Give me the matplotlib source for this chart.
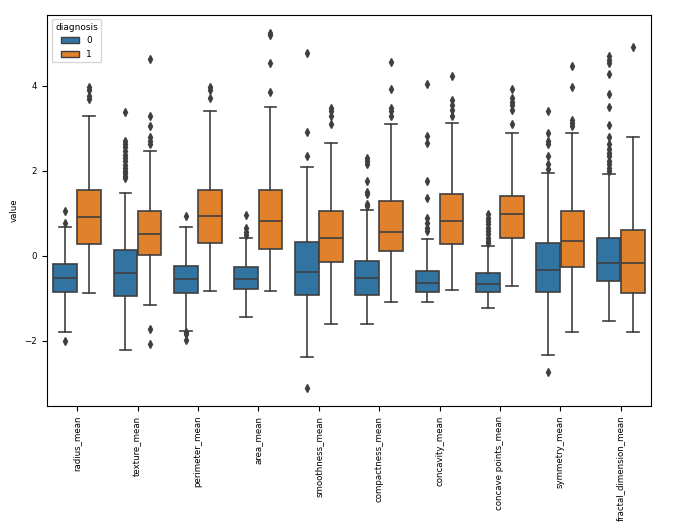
import matplotlib
matplotlib.use("Agg")
import matplotlib.pyplot as plt
from matplotlib.patches import Patch

features = ["radius_mean", "texture_mean", "perimeter_mean", "area_mean",
            "smoothness_mean", "compactness_mean", "concavity_mean",
            "concave points_mean", "symmetry_mean", "fractal_dimension_mean"]

# box statistics, diagnosis 0 (benign)
b_q1 = [-0.84, -0.94, -0.87, -0.78, -0.92, -0.91, -0.84, -0.86, -0.84, -0.59]
b_med = [-0.51, -0.41, -0.54, -0.54, -0.38, -0.53, -0.63, -0.65, -0.33, -0.16]
b_q3 = [-0.20, 0.14, -0.23, -0.27, 0.33, -0.12, -0.36, -0.41, 0.30, 0.42]
b_lo = [-1.80, -2.21, -1.76, -1.43, -2.37, -1.59, -1.09, -1.23, -2.34, -1.54]
b_hi = [0.69, 1.47, 0.69, 0.43, 2.10, 1.07, 0.39, 0.24, 1.95, 1.93]
b_fliers = [
    [1.05, 0.78, -2.01],
    [3.38, 2.70, 2.62, 2.55, 2.46, 2.38, 2.30, 2.22, 2.14, 2.07, 2.00, 1.95, 1.88, 1.82],
    [0.95, -1.78, -1.84, -1.97],
    [0.97, 0.66, 0.56, 0.48],
    [4.77, 2.91, 2.34, -3.10],
    [2.30, 2.23, 2.17, 1.77, 1.51, 1.46, 1.21, 1.17],
    [4.05, 2.83, 2.66, 1.76, 1.37, 0.88, 0.78, 0.66, 0.59],
    [0.98, 0.90, 0.82, 0.74, 0.66, 0.59, 0.51, 0.43, 0.35, 0.30],
    [3.40, 2.88, 2.70, 2.62, 2.36, 2.15, 2.05, -2.72],
    [4.69, 4.61, 4.53, 4.27, 3.81, 3.50, 3.07, 2.80, 2.62, 2.52, 2.42, 2.34, 2.23, 2.15, 2.07, 1.99],
]

# diagnosis 1 (malignant)
m_q1 = [0.27, 0.02, 0.30, 0.16, -0.14, 0.12, 0.28, 0.43, -0.25, -0.87]
m_med = [0.92, 0.52, 0.94, 0.81, 0.43, 0.56, 0.82, 0.98, 0.35, -0.16]
m_q3 = [1.56, 1.06, 1.56, 1.56, 1.05, 1.29, 1.45, 1.42, 1.06, 0.62]
m_lo = [-0.88, -1.15, -0.82, -0.82, -1.59, -1.09, -0.80, -0.70, -1.80, -1.80]
m_hi = [3.30, 2.46, 3.41, 3.49, 2.65, 3.09, 3.13, 2.88, 2.88, 2.80]
m_fliers = [
    [3.97, 3.91, 3.77, 3.69],
    [4.63, 3.30, 3.05, 2.79, 2.71, 2.62, -1.72, -2.07],
    [3.97, 3.89, 3.71],
    [5.25, 5.20, 4.53, 3.85],
    [3.48, 3.40, 3.28, 3.09],
    [4.55, 3.92, 3.48, 3.40, 3.28],
    [4.24, 3.66, 3.55, 3.44, 3.30],
    [3.92, 3.71, 3.63, 3.55, 3.44, 3.10],
    [4.47, 3.98, 3.20, 3.13, 3.05],
    [4.92],
]

BLUE = "#3274a1"
ORANGE = "#e1812c"
EDGE = "#3f3f3f"
FS = 6.2


def make_stats(q1, med, q3, lo, hi, fliers):
    stats = []
    for i in range(len(q1)):
        stats.append({"q1": q1[i], "med": med[i], "q3": q3[i],
                      "whislo": lo[i], "whishi": hi[i], "fliers": fliers[i]})
    return stats


fig = plt.figure(figsize=(6.91, 5.26), dpi=100)
ax = fig.add_axes([0.068, 0.228, 0.874, 0.744])

pos = list(range(len(features)))
groups = [(make_stats(b_q1, b_med, b_q3, b_lo, b_hi, b_fliers), -0.2, BLUE),
          (make_stats(m_q1, m_med, m_q3, m_lo, m_hi, m_fliers), 0.2, ORANGE)]

for stats, off, col in groups:
    ax.bxp(stats, positions=[p + off for p in pos], widths=0.392,
           patch_artist=True, showfliers=True,
           boxprops=dict(facecolor=col, edgecolor=EDGE, linewidth=1.2),
           medianprops=dict(color=EDGE, linewidth=1.2),
           whiskerprops=dict(color=EDGE, linewidth=1.2),
           capprops=dict(color=EDGE, linewidth=1.2),
           flierprops=dict(marker="d", markerfacecolor=EDGE, markeredgecolor=EDGE,
                           markersize=3.8, linestyle="none"))

ax.set_xlim(-0.5, len(features) - 0.5)
ax.set_ylim(-3.53, 5.67)
ax.set_xticks(pos)
ax.set_xticklabels(features, rotation=90, fontsize=FS)
ax.set_yticks([-2, 0, 2, 4])
ax.tick_params(axis="y", labelsize=FS)
ax.set_ylabel("value", fontsize=FS)

handles = [Patch(facecolor=BLUE, edgecolor=EDGE, label="0"),
           Patch(facecolor=ORANGE, edgecolor=EDGE, label="1")]
ax.legend(handles=handles, title="diagnosis", loc="upper left",
          fontsize=FS + 0.3, title_fontsize=FS + 0.3)

fig.savefig("out.png", dpi=100)
